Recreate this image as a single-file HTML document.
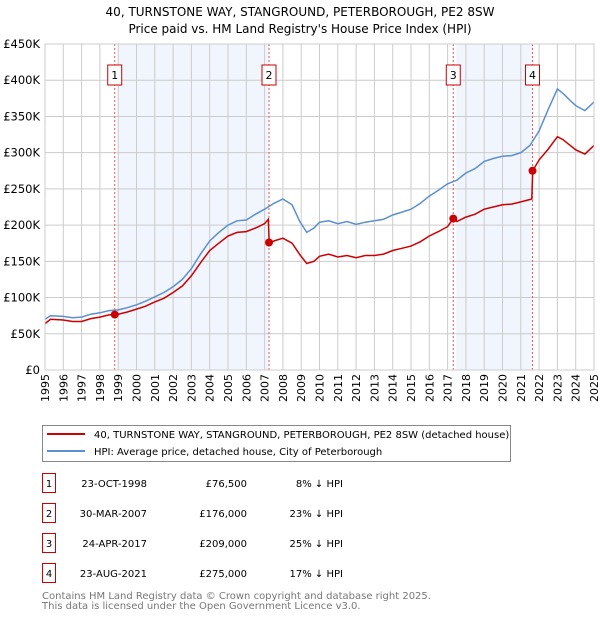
<!DOCTYPE html>
<html><head><meta charset="utf-8"><style>
body{margin:0;background:#fff;}
svg text{font-family:"DejaVu Sans","Liberation Sans",sans-serif;}
</style></head><body>
<svg id="c" width="600" height="620" xmlns="http://www.w3.org/2000/svg">
<text x="300" y="16" text-anchor="middle" font-size="12">40, TURNSTONE WAY, STANGROUND, PETERBOROUGH, PE2 8SW</text>
<text x="300" y="33" text-anchor="middle" font-size="12">Price paid vs. HM Land Registry's House Price Index (HPI)</text>
<g id="plot"></g>
<g>
<rect x="42.5" y="425.5" width="468" height="36" fill="#fff" stroke="#888"/>
<line x1="47" y1="434" x2="85" y2="434" stroke="#cc0000" stroke-width="2"/>
<text x="94" y="438" font-size="10">40, TURNSTONE WAY, STANGROUND, PETERBOROUGH, PE2 8SW (detached house)</text>
<line x1="47" y1="451" x2="85" y2="451" stroke="#5b8fd0" stroke-width="2"/>
<text x="94" y="455" font-size="10">HPI: Average price, detached house, City of Peterborough</text>
</g>
<g id="table"></g>
<text x="42" y="599" font-size="10" fill="#777">Contains HM Land Registry data © Crown copyright and database right 2025.</text>
<text x="42" y="609" font-size="10" fill="#777">This data is licensed under the Open Government Licence v3.0.</text>
</svg>
<script>
const hpiDates=[1995,1995.3,1996,1996.5,1997,1997.5,1998,1998.5,1999,1999.5,2000,2000.5,2001,2001.5,2002,2002.5,2003,2003.5,2004,2004.5,2005,2005.5,2006,2006.5,2007,2007.5,2008,2008.5,2008.9,2009.3,2009.7,2010,2010.5,2011,2011.5,2012,2012.5,2013,2013.5,2014,2014.5,2015,2015.5,2016,2016.5,2017,2017.5,2018,2018.5,2019,2019.5,2020,2020.5,2021,2021.5,2022,2022.5,2023,2023.3,2023.7,2024,2024.5,2025];
const hpiValues=[70,75,74,72,73,77,79,82,83,86,90,95,101,107,115,125,140,160,178,190,200,206,207,215,222,230,236,228,206,190,196,204,206,202,205,201,204,206,208,214,218,222,230,240,248,257,262,272,278,288,292,295,296,300,310,330,360,388,382,372,365,358,370];
const priceDates=[1995,1995.3,1996,1996.5,1997,1997.5,1998,1998.5,1998.8,1999,1999.5,2000,2000.5,2001,2001.5,2002,2002.5,2003,2003.5,2004,2004.5,2005,2005.5,2006,2006.5,2007,2007.2,2007.25,2007.5,2008,2008.5,2008.9,2009.3,2009.7,2010,2010.5,2011,2011.5,2012,2012.5,2013,2013.5,2014,2014.5,2015,2015.5,2016,2016.5,2017,2017.3,2017.5,2018,2018.5,2019,2019.5,2020,2020.5,2021,2021.6,2021.65,2022,2022.5,2023,2023.3,2023.7,2024,2024.5,2025];
const priceValues=[64,70,69,67,67,71,73,76,76.5,77,80,84,88,94,99,107,116,130,148,165,175,185,190,191,196,202,208,176,178,182,175,160,147,150,157,160,156,158,155,158,158,160,165,168,171,177,185,191,198,209,205,211,215,222,225,228,229,232,236,275,290,305,322,318,310,304,298,310];
const saleLabels=["1","2","3","4"];
const saleDates=[1998.81,2007.24,2017.31,2021.64];
const salePrices=[76.5,176,209,275];
const saleDateText=["23-OCT-1998","30-MAR-2007","24-APR-2017","23-AUG-2021"];
const salePriceText=["£76,500","£176,000","£209,000","£275,000"];
const salePctText=["8% ↓ HPI","23% ↓ HPI","25% ↓ HPI","17% ↓ HPI"];
const yTicks=[0,50,100,150,200,250,300,350,400,450];
const yTickLabels=["£0","£50K","£100K","£150K","£200K","£250K","£300K","£350K","£400K","£450K"];
const xYears=[1995,1996,1997,1998,1999,2000,2001,2002,2003,2004,2005,2006,2007,2008,2009,2010,2011,2012,2013,2014,2015,2016,2017,2018,2019,2020,2021,2022,2023,2024,2025];

const X0=45,X1=594,Y0=370,Y1=44;
const xs=t=>X0+(t-1995)/30*(X1-X0);
const ys=v=>Y0-v/450*(Y0-Y1);
const NS="http://www.w3.org/2000/svg";
function mk(tag,attrs,parent,txt){const e=document.createElementNS(NS,tag);for(const k in attrs)e.setAttribute(k,attrs[k]);if(txt!==undefined)e.textContent=txt;parent.appendChild(e);return e;}
const g=document.getElementById('plot');
for(let i=0;i<saleDates.length;i+=2){
  const r=mk('rect',{x:xs(saleDates[i])+3,y:Y1,width:xs(saleDates[i+1])-xs(saleDates[i])-3,height:Y0-Y1,fill:'#eef3fc',opacity:0.8},g);
  
  
}
xYears.forEach(y=>{
  const l=mk('line',{x1:xs(y),x2:xs(y),y1:Y1,y2:Y0,stroke:'#ccc','stroke-width':1},g);
  
  
  const t=mk('text',{transform:`translate(${xs(y)+4},374) rotate(-90)`,'text-anchor':'end','font-size':11},g,String(y));
  
  
});
yTicks.forEach((v,i)=>{
  const l=mk('line',{x1:X0,x2:X1,y1:ys(v),y2:ys(v),stroke:'#ccc','stroke-width':1},g);
  
  
  const t=mk('text',{x:40,y:ys(v)+4,'text-anchor':'end','font-size':11.5},g,yTickLabels[i]);
  
  
});
saleDates.forEach((d,i)=>{
  const l=mk('line',{x1:xs(d),x2:xs(d),y1:Y1,y2:Y0,stroke:'#ee5555','stroke-width':1,'stroke-dasharray':'2,2'},g);
  
  
  const b=mk('rect',{x:xs(d)-7,y:65,width:14,height:20,fill:'#fff',stroke:'#cc0000'},g);
  
  
  const t=mk('text',{x:xs(d),y:79,'text-anchor':'middle','font-size':11},g,saleLabels[i]);
  
  
});
const hp=mk('path',{d:hpiDates.map((d,i)=>(i?'L':'M')+xs(d).toFixed(1)+','+ys(hpiValues[i]).toFixed(1)).join(''),fill:'none',stroke:'#5b8fd0','stroke-width':1.5},g);


const pp=mk('path',{d:priceDates.map((d,i)=>(i?'L':'M')+xs(d).toFixed(1)+','+ys(priceValues[i]).toFixed(1)).join(''),fill:'none',stroke:'#cc0000','stroke-width':1.5},g);


saleDates.forEach((d,i)=>{
  const c=mk('circle',{cx:xs(d),cy:ys(salePrices[i]),r:4,fill:'#cc0000'},g);
  
  
});
const fr=mk('rect',{x:X0,y:Y1,width:X1-X0,height:Y0-Y1,fill:'none',stroke:'#ccc'},g);


const tb=document.getElementById('table');
saleLabels.forEach((s,i)=>{
  const cy=483+i*30;
  const b=mk('rect',{x:42.5,y:cy-9.5,width:13,height:19,fill:'#fff',stroke:'#cc0000'},tb);
  
  
  const t0=mk('text',{x:49,y:cy+4,'text-anchor':'middle','font-size':10},tb,s);
  
  
  const t1=mk('text',{x:147,y:cy+4,'text-anchor':'end','font-size':10},tb,saleDateText[i]);
  
  
  const t2=mk('text',{x:247,y:cy+4,'text-anchor':'end','font-size':10},tb,salePriceText[i]);
  
  
  const t3=mk('text',{x:343,y:cy+4,'text-anchor':'end','font-size':10},tb,salePctText[i]);
  
  
});
</script>
</body></html>
